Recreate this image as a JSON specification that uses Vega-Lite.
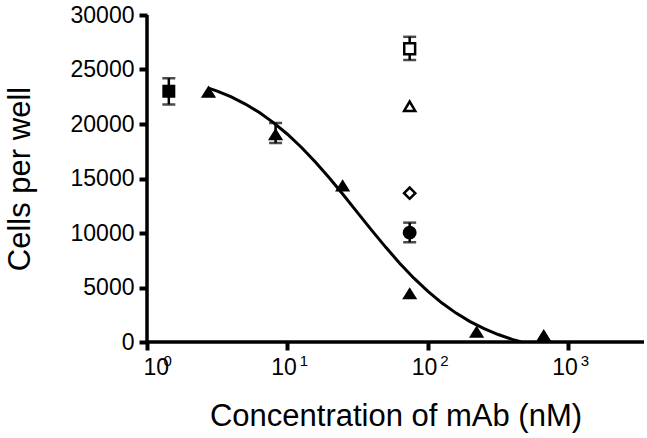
{
  "$schema": "https://vega.github.io/schema/vega-lite/v6.json",
  "width": 497,
  "height": 327,
  "autosize": {"type": "none"},
  "padding": {"left": 147, "top": 15, "right": 3, "bottom": 96},
  "background": "white",
  "config": {
    "view": {"stroke": null},
    "font": "Liberation Sans",
    "axis": {
      "grid": false,
      "labelColor": "black",
      "labelFont": "Liberation Sans",
      "labelFontSize": 23,
      "titleFont": "Liberation Sans",
      "titleFontSize": 31,
      "titleFontWeight": "normal",
      "titleColor": "black"
    }
  },
  "resolve": {"axis": {"x": "independent"}},
  "datasets": {
    "axisline": [{"from": 1, "to": 3450, "bottom": 0, "top": 30000}],
    "curve": [
      {"conc": 2.742, "cells": 23298},
      {"conc": 3.162, "cells": 23016},
      {"conc": 3.981, "cells": 22479},
      {"conc": 5.012, "cells": 21829},
      {"conc": 6.31, "cells": 21049},
      {"conc": 7.943, "cells": 20130},
      {"conc": 10, "cells": 19062},
      {"conc": 12.59, "cells": 17845},
      {"conc": 15.85, "cells": 16489},
      {"conc": 19.95, "cells": 15016},
      {"conc": 25.12, "cells": 13458},
      {"conc": 31.62, "cells": 11850},
      {"conc": 39.81, "cells": 10244},
      {"conc": 50.12, "cells": 8684},
      {"conc": 63.1, "cells": 7210},
      {"conc": 79.43, "cells": 5855},
      {"conc": 100, "cells": 4638},
      {"conc": 125.9, "cells": 3570},
      {"conc": 158.5, "cells": 2651},
      {"conc": 199.5, "cells": 1872},
      {"conc": 251.2, "cells": 1221},
      {"conc": 316.2, "cells": 685},
      {"conc": 398.1, "cells": 246},
      {"conc": 462, "cells": 0}
    ],
    "points": [
      {"series": "No mAb", "conc": 1.43, "cells": 23000, "lo": 21800, "hi": 24200},
      {"series": "mAb", "conc": 2.74, "cells": 22900, "lo": null, "hi": null},
      {"series": "mAb", "conc": 8.23, "cells": 19000, "lo": 18250, "hi": 20100},
      {"series": "mAb", "conc": 24.7, "cells": 14300, "lo": null, "hi": null},
      {"series": "mAb", "conc": 74.1, "cells": 4400, "lo": null, "hi": null},
      {"series": "mAb", "conc": 222, "cells": 880, "lo": null, "hi": null},
      {"series": "mAb", "conc": 667, "cells": 550, "lo": null, "hi": null},
      {"series": "Control A", "conc": 74.1, "cells": 26900, "lo": 25870, "hi": 28000},
      {"series": "Control B", "conc": 74.1, "cells": 21600, "lo": null, "hi": null},
      {"series": "Control C", "conc": 74.1, "cells": 13650, "lo": null, "hi": null},
      {"series": "Control D", "conc": 74.1, "cells": 10030, "lo": 9150, "hi": 10950}
    ]
  },
  "layer": [
    {
      "data": {"name": "curve"},
      "mark": {"type": "line", "color": "black", "strokeWidth": 3, "clip": true},
      "encoding": {
        "x": {
          "field": "conc", "type": "quantitative",
          "scale": {"type": "log", "domain": [1, 3450], "nice": false},
          "axis": {
            "orient": "bottom",
            "values": [1, 10, 100, 1000],
            "labelExpr": "'10'",
            "labelOffset": -4,
            "labelPadding": 6,
            "domain": false,
            "tickColor": "black", "tickWidth": 4, "tickSize": 8,
            "title": "Concentration of mAb (nM)",
            "titlePadding": 22
          }
        },
        "y": {
          "field": "cells", "type": "quantitative",
          "scale": {"domain": [0, 30000], "nice": false},
          "axis": {
            "values": [0, 5000, 10000, 15000, 20000, 25000, 30000],
            "format": "d",
            "labelPadding": 5,
            "domain": false,
            "tickColor": "black", "tickWidth": 4, "tickSize": 8,
            "title": "Cells per well",
            "titlePadding": 34
          }
        }
      }
    },
    {
      "data": {"name": "axisline"},
      "mark": {"type": "rule", "color": "black", "strokeWidth": 3.5},
      "encoding": {
        "x": {"field": "from", "type": "quantitative", "axis": null},
        "y": {"field": "bottom", "type": "quantitative"},
        "y2": {"field": "top"}
      }
    },
    {
      "data": {"name": "axisline"},
      "mark": {"type": "rule", "color": "black", "strokeWidth": 3.5},
      "encoding": {
        "x": {"field": "from", "type": "quantitative", "axis": null},
        "x2": {"field": "to"},
        "y": {"field": "bottom", "type": "quantitative"}
      }
    },
    {
      "data": {"name": "points"},
      "transform": [{"filter": "datum.lo != null"}],
      "mark": {"type": "rule", "color": "black", "strokeWidth": 2.5},
      "encoding": {
        "x": {"field": "conc", "type": "quantitative", "axis": null},
        "y": {"field": "lo", "type": "quantitative"},
        "y2": {"field": "hi"}
      }
    },
    {
      "data": {"name": "points"},
      "transform": [{"filter": "datum.lo != null"}],
      "mark": {"type": "tick", "orient": "horizontal", "color": "black", "size": 13, "thickness": 2.5},
      "encoding": {
        "x": {"field": "conc", "type": "quantitative", "axis": null},
        "y": {"field": "lo", "type": "quantitative"}
      }
    },
    {
      "data": {"name": "points"},
      "transform": [{"filter": "datum.lo != null"}],
      "mark": {"type": "tick", "orient": "horizontal", "color": "black", "size": 13, "thickness": 2.5},
      "encoding": {
        "x": {"field": "conc", "type": "quantitative", "axis": null},
        "y": {"field": "hi", "type": "quantitative"}
      }
    },
    {
      "data": {"name": "points"},
      "mark": {"type": "point", "stroke": "black", "strokeWidth": 2.5, "opacity": 1, "filled": false},
      "encoding": {
        "x": {
          "field": "conc", "type": "quantitative",
          "axis": {
            "orient": "bottom",
            "values": [1, 10, 100, 1000],
            "labelExpr": "datum.value == 1 ? '0' : datum.value == 10 ? '1' : datum.value == 100 ? '2' : '3'",
            "labelFontSize": 15,
            "labelOffset": 16,
            "labelPadding": 3,
            "domain": false,
            "ticks": true, "tickOpacity": 0, "tickSize": 8,
            "title": null
          }
        },
        "y": {"field": "cells", "type": "quantitative"},
        "shape": {
          "field": "series", "type": "nominal", "legend": null,
          "scale": {
            "domain": ["No mAb", "mAb", "Control A", "Control B", "Control C", "Control D"],
            "range": ["square", "M-1,0.75L0,-0.85L1,0.75Z", "square", "M-1,0.8L0,-0.9L1,0.8Z", "diamond", "circle"]
          }
        },
        "fill": {
          "field": "series", "type": "nominal", "legend": null,
          "scale": {
            "domain": ["No mAb", "mAb", "Control A", "Control B", "Control C", "Control D"],
            "range": ["black", "black", "white", "white", "white", "black"]
          }
        },
        "size": {
          "field": "series", "type": "nominal", "legend": null,
          "scale": {
            "domain": ["No mAb", "mAb", "Control A", "Control B", "Control C", "Control D"],
            "range": [110, 130, 120, 130, 110, 110]
          }
        }
      }
    }
  ]
}
